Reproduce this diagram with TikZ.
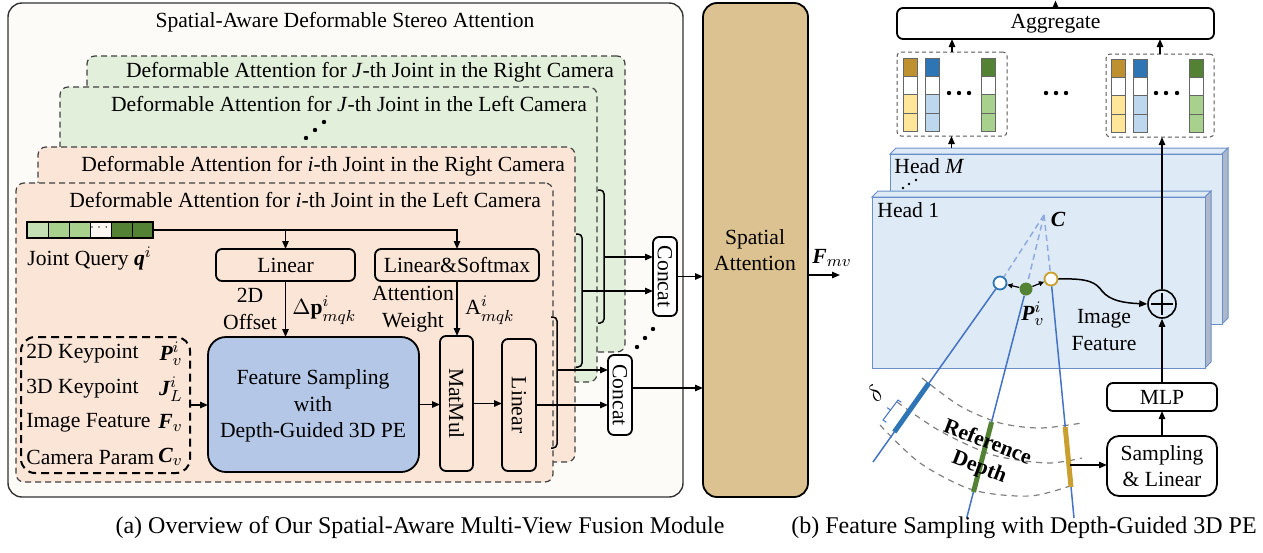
\documentclass[tikz,border=0pt]{standalone}
\usepackage{amsmath}
\usepackage{bm}
\usepackage{fontspec}
\setmainfont{Liberation Serif}
\usetikzlibrary{arrows.meta,fit,calc}
\definecolor{cream}{HTML}{FCFBF7}
\definecolor{greenbg}{HTML}{E2EFDA}
\definecolor{pinkbg}{HTML}{FBE5D6}
\definecolor{fsblue}{HTML}{B4C7E7}
\definecolor{sacolor}{HTML}{DBC290}
\definecolor{headfill}{HTML}{DEEBF7}
\definecolor{headedge}{HTML}{6A8FC8}
\definecolor{headside}{HTML}{ADB9CA}
\definecolor{qlight}{HTML}{C5E0B4}
\definecolor{qmid}{HTML}{A9D18E}
\definecolor{qdark}{HTML}{548235}
\definecolor{qpale}{HTML}{FEF6F0}
\definecolor{cbrown}{HTML}{BF9030}
\definecolor{cblue}{HTML}{2E75B6}
\definecolor{cyellow}{HTML}{FFE699}
\definecolor{clblue}{HTML}{BDD7EE}
\definecolor{rayblue}{HTML}{4472C4}
\definecolor{dashblue}{HTML}{8FAADC}
\definecolor{goldc}{HTML}{C9A030}
\newcommand{\bit}[1]{\text{\bfseries\itshape #1}}
\newcommand{\colstack}[4]{%
  \foreach \k/\cc in {0/#3,1/white,2/#4,3/#4}{%
    \filldraw[fill=\cc,draw=black!60,line width=0.4pt] (#1,{#2+\k*18.3}) rectangle ({#1+14},{#2+(\k+1)*18.3});}}
\begin{document}
\begin{tikzpicture}[x=0.5pt,y=-0.5pt,
  font=\fontsize{10.8}{13.2}\selectfont,
  arr/.style={-{Triangle[length=4pt,width=3.2pt]},line width=0.75pt},
  sarr/.style={-{Triangle[length=2.6pt,width=2.4pt]},line width=0.6pt},
  fb/.style={inner sep=0pt,outer sep=0pt},
  sbox/.style={fb,draw,line width=0.9pt,rounded corners=3pt},
  dbox/.style={fb,draw=black!75,line width=0.6pt,dash pattern=on 3pt off 2pt,rounded corners=4pt},
  gbox/.style={fb,draw=black!65,line width=0.5pt,dash pattern=on 2pt off 1.5pt,rounded corners=2pt},
  brk/.style={line width=0.75pt,rounded corners=2pt},
  arcd/.style={draw=gray,line width=0.6pt,dash pattern=on 3pt off 2.5pt},
  tl/.style={inner sep=0.5pt},
]
\useasboundingbox (0,0) rectangle (1263,552);

% ---------------- (a) ----------------
\node[fit={(8,3)(683,497)},fb,draw=black!80,line width=0.7pt,fill=cream,rounded corners=7pt] (outer) {};
\node (title) at (345,22) {Spatial-Aware Deformable Stereo Attention};

\node[fit={(87,56)(625,352)},dbox,fill=greenbg] (gB) {};
\node[anchor=east] (gBt) at (621,72) {Deformable Attention for \textit{J}-th Joint in the Right Camera};
\node[fit={(60,87)(597,382)},dbox,fill=greenbg] (gF) {};
\node[anchor=east] (gFt) at (594,104) {Deformable Attention for \textit{J}-th Joint in the Left Camera};
\foreach \p in {(306,138),(315,130),(324,122)} \fill \p circle (1.1pt);

\node[fit={(38,147)(575,462)},dbox,fill=pinkbg] (pB) {};
\node[anchor=east] (pBt) at (572,166) {Deformable Attention for \textit{i}-th Joint in the Right Camera};
\node[fit={(16,183)(553,482)},dbox,fill=pinkbg] (pF) {};
\node[anchor=east] (pFt) at (548,200) {Deformable Attention for \textit{i}-th Joint in the Left Camera};

% brackets
\draw[brk] (598,190) -- (604,190) -- (604,323) -- (598,323);
\draw[brk] (576,234) -- (582,234) -- (582,367) -- (576,367);
\draw[brk] (551,317) -- (557,317) -- (557,448) -- (551,448);
\coordinate (bA) at (604,257);
\coordinate (bB) at (582,291);
\coordinate (bC) at (557,370);

% concat
\node[fit={(653,237)(677,316)},sbox,fill=white] (cu) {};
\node[rotate=-90] (cut) at (cu.center) {Concat};
\node[fit={(608,355)(632,435)},sbox,fill=white] (cl) {};
\node[rotate=-90] (clt) at (cl.center) {Concat};
\foreach \p in {(637,347),(645,338),(653,329)} \fill \p circle (1.1pt);

% spatial attention
\node[fit={(703,3)(808,497)},fb,draw,line width=0.9pt,fill=sacolor,rounded corners=7pt] (sa) {};
\node[align=center] (sat) at (755,250) {Spatial\\Attention};

\draw[arr] (bA) -- (bA -| cu.west);
\draw[arr] (bB) -- (bB -| cu.west);
\draw[arr] (bC) -- (bC -| cl.west);
\draw[arr] (cu.east) -- (cu.east -| sa.west);
\coordinate (clo) at (632,388);
\draw[arr] (clo) -- (clo -| sa.west);
\coordinate (fmv) at (840,275);
\draw[arr] (sa.east |- fmv) -- (fmv);
\node (fmvl) at (832,258) {$\bit{F}_{mv}$};

% joint query
\fill[qlight] (27,222) rectangle (48,238);
\fill[qmid] (48,222) rectangle (90,238);
\fill[qpale] (90,222) rectangle (111,238);
\fill[qdark] (111,222) rectangle (153,238);
\foreach \x in {48,69,90,111,132} \draw[line width=0.4pt] (\x,222) -- (\x,238);
\node[fit={(27,222)(153,238)},fb,draw,line width=0.6pt] (q) {};
\node[font=\fontsize{6}{6}\selectfont] (qd) at (100.5,228) {$\cdots$};
\node[anchor=west,tl] (ql) at (26,259) {Joint Query $\bit{q}^{i}$};

\node[fit={(216,249)(355,281)},sbox] (lin1) {};
\node (lin1t) at (lin1.center) {Linear};
\node[fit={(375,249)(539,281)},sbox] (lsm) {};
\node (lsmt) at (lsm.center) {Linear\&Softmax};
\draw[arr] (q.east) -| (lsm.north);
\draw[arr] (q.east -| lin1.north) -- (lin1.north);

\node[fit={(208,337)(419,472)},fb,draw,line width=0.9pt,fill=fsblue,rounded corners=9pt] (fs) {};
\node[align=center] (fst) at (313,406) {Feature Sampling\\with\\Depth-Guided 3D PE};
\draw[arr] (lin1.south) -- (lin1.south |- fs.north);
\node[align=center,tl] (off) at (250,309) {2D\\Offset};
\node[anchor=west,tl] (dp) at (291,310) {$\Delta\mathbf{p}^{i}_{mqk}$};

\node[fit={(440,336)(473,471)},sbox] (mm) {};
\node[rotate=-90] (mmt) at (mm.center) {MatMul};
\node[fit={(502,339)(536,471)},sbox] (lin2) {};
\node[rotate=-90] (lin2t) at (lin2.center) {Linear};
\draw[arr] (lsm.south) -- (lsm.south |- mm.north);
\node[align=center,tl] (aw) at (413,309) {Attention\\Weight};
\node[anchor=west,tl] (al) at (464,310) {$\mathrm{A}^{i}_{mqk}$};

\node[fit={(21,337)(190,473)},fb,draw,line width=1pt,dash pattern=on 4pt off 2.5pt,rounded corners=7pt] (inp) {};
\node[anchor=west,tl] (k1) at (25,354) {2D Keypoint};
\node[anchor=east,tl] (k1m) at (184,354) {$\bit{P}^{i}_{v}$};
\node[anchor=west,tl] (k2) at (25,389) {3D Keypoint};
\node[anchor=east,tl] (k2m) at (184,389) {$\bit{J}^{i}_{L}$};
\node[anchor=west,tl] (k3) at (25,423) {Image Feature};
\node[anchor=east,tl] (k3m) at (184,423) {$\bit{F}_{v}$};
\node[anchor=west,tl] (k4) at (25,457) {Camera Param};
\node[anchor=east,tl] (k4m) at (184,457) {$\bit{C}_{v}$};

\draw[arr] (inp.east) -- (inp.east -| fs.west);
\draw[arr] (fs.east) -- (fs.east -| mm.west);
\draw[arr] (mm.east) -- (mm.east -| lin2.west);
\draw[arr] (lin2.east) -- (lin2.east -| cl.west);

% ---------------- (b) ----------------
\node[fit={(897,8)(1214,39)},sbox] (agg) {};
\node (aggt) at (agg.center) {Aggregate};
\coordinate (aggout) at (1055.5,0.5);
\draw[arr] (agg.north) -- (aggout);

\colstack{903}{58}{cbrown}{cyellow}
\colstack{925}{58}{cblue}{clblue}
\colstack{981}{58}{qdark}{qmid}
\colstack{1111}{59}{cbrown}{cyellow}
\colstack{1133}{59}{cblue}{clblue}
\colstack{1189}{59}{qdark}{qmid}
\foreach \x in {949,959,969,1046,1056,1066,1156,1166,1177} \fill (\x,93) circle (1.1pt);
\node[fit={(897,52)(1007,136)},gbox] (gl) {};
\node[fit={(1106,54)(1214,137)},gbox] (gr) {};
\draw[arr] (gl.north) -- (gl.north |- agg.south);
\draw[arr] (gr.north) -- (gr.north |- agg.south);

% head M
\filldraw[fill=headfill,draw=headedge,line width=0.5pt] (890,154) -- (896,148) -- (1228,148) -- (1222,154) -- cycle;
\filldraw[fill=headside,draw=headedge,line width=0.5pt] (1222,154) -- (1228,148) -- (1228,318) -- (1222,324) -- cycle;
\filldraw[fill=headfill,draw=headedge,line width=0.5pt] (890,154) rectangle (1222,324);
\node[anchor=west,tl] (hm) at (893,166) {Head \textit{M}};
\foreach \p in {(903,188),(909,184),(916,180)} \fill \p circle (0.7pt);
\coordinate (hmtop) at (951.5,148);
\draw[arr] (hmtop) -- (hmtop |- gl.south);

% head 1
\filldraw[fill=headfill,draw=headedge,line width=0.5pt] (872,197) -- (878,191) -- (1211,191) -- (1205,197) -- cycle;
\filldraw[fill=headside,draw=headedge,line width=0.5pt] (1205,197) -- (1211,191) -- (1211,362) -- (1205,368) -- cycle;
\filldraw[fill=headfill,draw=headedge,line width=0.5pt] (872,197) rectangle (1205,368);
\node[anchor=west,tl] (h1) at (876,210) {Head 1};

% camera
\coordinate (C) at (1044,215);
\node[tl] (Cl) at (1058,219) {\bfseries\itshape C};
\node[circle,draw=cblue,line width=0.9pt,fill=white,minimum size=6.5pt,inner sep=0] (bc) at (1000,283) {};
\node[circle,fill=qdark,minimum size=6.5pt,inner sep=0] (gd) at (1026,289) {};
\node[circle,draw=goldc,line width=0.9pt,fill=white,minimum size=6.5pt,inner sep=0] (oc) at (1051,279) {};
\draw[dashblue,line width=0.75pt,dash pattern=on 3pt off 2pt] (C) -- (bc);
\draw[dashblue,line width=0.75pt,dash pattern=on 3pt off 2pt] (C) -- (gd);
\draw[dashblue,line width=0.75pt,dash pattern=on 3pt off 2pt] (C) -- (oc);
\draw[sarr] (gd) -- (bc);
\draw[sarr] (gd) -- (oc);
\node[tl] (pvl) at (1033,314) {$\bit{P}^{i}_{v}$};

% depth arcs
\draw[arcd] plot[smooth] coordinates {(922,378) (960,406) (1000,423) (1040,428) (1082,423)};
\draw[arcd] plot[smooth] coordinates {(897,402) (940,431) (993,455) (1047,463) (1082,458)};
\draw[arcd] plot[smooth] coordinates {(880,425) (920,463) (973,490) (1030,496) (1073,485)};

% rays
\coordinate (r1) at (873,462);
\coordinate (r2) at (966.7,518);
\coordinate (r3) at (1074,518);
\draw[rayblue,line width=0.75pt] (bc) -- (r1);
\draw[rayblue,line width=0.75pt] (gd) -- (r2);
\draw[rayblue,line width=0.75pt] (oc) -- (r3);
\draw[cblue,line width=2.5pt] (929,383) -- (894.3,432);
\draw[qdark,line width=2.5pt] (991.6,422) -- (973.5,492);
\draw[goldc,line width=2.5pt] (1065.2,427) -- (1071,487);

% delta bracket
\draw[rayblue,line width=0.5pt] (901.3,402.3) -- (898,400) -- (883,420) -- (886.3,422.3);
\draw[rayblue,line width=0.5pt] (890.5,410) -- (887.2,407.7);
\node[rotate=45,tl,font=\fontsize{13}{13}\selectfont] (dl) at (875,394) {$\delta$};

\node[rotate=-21,inner sep=0pt,font=\fontsize{10.8}{13.2}\selectfont\bfseries] (rf) at (988,441) {Reference};
\node[rotate=-21,inner sep=0pt,font=\fontsize{10.8}{13.2}\selectfont\bfseries] (dpth) at (979,468) {Depth};

\node[align=center,tl] (imf) at (1104,330) {Image\\Feature};

\node[circle,draw,line width=0.8pt,minimum size=14pt,inner sep=0] (op) at (1162,304) {};
\draw[line width=0.8pt] ([yshift=-5.5pt]op.center) -- ([yshift=5.5pt]op.center);
\draw[line width=0.8pt] ([xshift=-5.5pt]op.center) -- ([xshift=5.5pt]op.center);
\draw[arr] (oc.east) .. controls (1090,278) and (1096,283) .. (1102,291) .. controls (1110,301) and (1125,303) .. (op.west);

\node[fit={(1107,383)(1217,411)},sbox] (mlp) {};
\node (mlpt) at (mlp.center) {MLP};
\node[fit={(1107,436)(1217,496)},sbox,rounded corners=6pt] (sl) {};
\node[align=center] (slt) at (sl.center) {Sampling\\\& Linear};
\draw[arr] (sl.north) -- (mlp.south);
\draw[arr] (mlp.north) -- (op.south);
\draw[arr] (op.north) -- (op.north |- gr.south);
\coordinate (gs) at (1070,465);
\draw[arr] (gs) -- (gs -| sl.west);

% captions
\node[font=\fontsize{12}{14}\selectfont] (capa) at (420,528) {(a) Overview of Our Spatial-Aware Multi-View Fusion Module};
\node[font=\fontsize{12}{14}\selectfont] (capb) at (1024,528) {(b) Feature Sampling with Depth-Guided 3D PE};
\end{tikzpicture}
\end{document}
